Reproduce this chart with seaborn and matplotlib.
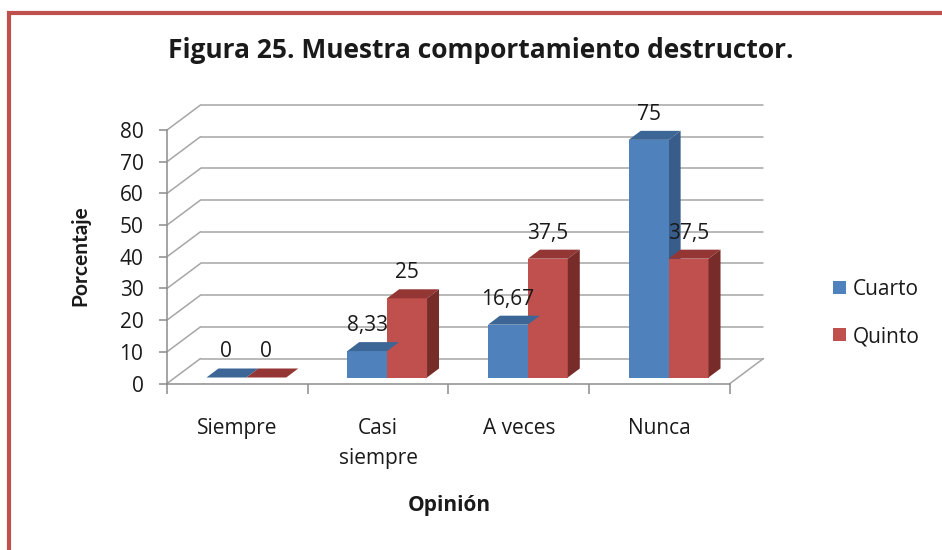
import matplotlib
matplotlib.use("Agg")
import matplotlib.pyplot as plt
import matplotlib.transforms as mtransforms
from matplotlib.patches import Polygon, Rectangle
import seaborn as sns
import pandas as pd

# ---- data ----
categories = ["Siempre", "Casi\nsiempre", "A veces", "Nunca"]
series = ["Cuarto", "Quinto"]
cuarto = [0, 8.33, 16.67, 75]
quinto = [0, 25, 37.5, 37.5]
yticks = [0, 10, 20, 30, 40, 50, 60, 70, 80]
title = "Figura 25. Muestra comportamiento destructor."
xlabel = "Opinión"
ylabel = "Porcentaje"

df = pd.DataFrame({
    "Opinion": categories * 2,
    "Grupo": [series[0]] * 4 + [series[1]] * 4,
    "Valor": cuarto + quinto,
})

sns.set_theme(style="white")
plt.rcParams["font.family"] = ["Open Sans", "DejaVu Sans"]

BLUE, RED = "#4F81BD", "#C0504D"
BLUE_SIDE, RED_SIDE = "#385D8A", "#772C2A"
BLUE_TOP, RED_TOP = "#3C6696", "#943634"
GRID = "#A6A6A6"
AXC = "#8C8C8C"
TXT = "#1a1a1a"
FS = 15

W, H = 942, 550
fig = plt.figure(figsize=(W / 100, H / 100), dpi=100)
x0, x1 = 167, 730
yb, yt = 383.5, 130
ax = fig.add_axes([x0 / W, (H - yb) / H, (x1 - x0) / W, (yb - yt) / H])

sns.barplot(data=df, x="Opinion", y="Valor", hue="Grupo", palette=[BLUE, RED],
            width=0.567, saturation=1, ax=ax, zorder=5, linewidth=0)
ax.set_xlim(-0.5, 3.5)
ax.set_ylim(0, 80)

px_x = (x1 - x0) / 4.0
px_y = (yb - yt) / 80.0

# back wall and floor (3D look)
fdx, fdy = 33.5 / px_x, 25 / px_y
for v in yticks:
    ax.plot([-0.5 + fdx, 3.5 + fdx], [v + fdy, v + fdy], color=GRID, lw=1.1, clip_on=False, zorder=1)
    ax.plot([-0.5, -0.5 + fdx], [v, v + fdy], color=GRID, lw=1.1, clip_on=False, zorder=1)
ax.plot([3.5, 3.5 + fdx], [0, fdy], color=GRID, lw=1.1, clip_on=False, zorder=1)

# bars: shift into the floor and add depth faces
shift = mtransforms.ScaledTranslation(9 / 100, 6 / 100, fig.dpi_scale_trans)
tr = ax.transData + shift
ddx, ddy = 12 / px_x, 9 / px_y
bars = [p for p in ax.patches if abs(p.get_width() - 0.567 / 2) < 0.01]
for i, p in enumerate(bars):
    is_blue = i < 4
    p.set_transform(tr)
    bx, bw, bh = p.get_x(), p.get_width(), p.get_height()
    top = Polygon([(bx, bh), (bx + bw, bh), (bx + bw + ddx, bh + ddy), (bx + ddx, bh + ddy)],
                  closed=True, facecolor=BLUE_TOP if is_blue else RED_TOP, lw=0,
                  transform=tr, zorder=5, clip_on=False)
    side = Polygon([(bx + bw, 0), (bx + bw + ddx, ddy), (bx + bw + ddx, bh + ddy), (bx + bw, bh)],
                   closed=True, facecolor=BLUE_SIDE if is_blue else RED_SIDE, lw=0,
                   transform=tr, zorder=4.9 if is_blue else 5.1, clip_on=False)
    ax.add_patch(side)
    ax.add_patch(top)
    lab = f"{bh:g}".replace(".", ",")
    ax.annotate(lab, xy=(bx + bw / 2, bh), xycoords=tr, xytext=(0, 18.4),
                textcoords="offset points", ha="center", va="center",
                fontsize=FS, color=TXT, zorder=10, annotation_clip=False)

# axes styling
for s in ["top", "right"]:
    ax.spines[s].set_visible(False)
for s in ["left", "bottom"]:
    ax.spines[s].set_color(AXC)
    ax.spines[s].set_linewidth(1.1)
ax.set_yticks(yticks)
ax.set_yticklabels([str(v) for v in yticks])
ax.tick_params(axis="y", length=6, width=1.1, color=AXC, pad=11, labelsize=FS, labelcolor=TXT, left=True)
ax.set_xticks(range(4))
ax.set_xticklabels(categories)
ax.tick_params(axis="x", length=0, pad=24.5, labelsize=FS, labelcolor=TXT)
for t in ax.get_xticklabels():
    t.set_verticalalignment("top")
    t.set_linespacing(1.6)
ax.set_xticks([-0.5, 0.5, 1.5, 2.5, 3.5], minor=True)
ax.tick_params(axis="x", which="minor", length=7, width=1.1, color=AXC, bottom=True)

ax.set_xlabel(xlabel, fontsize=FS, fontweight="bold", color=TXT)
ax.set_ylabel(ylabel, fontsize=FS, fontweight="bold", color=TXT, family=["Lato", "DejaVu Sans"])
ax.xaxis.set_label_coords((449 - x0) / (x1 - x0), -(505 - yb) / (yb - yt))
ax.xaxis.label.set_va("center")
ax.yaxis.set_label_coords((80 - x0) / (x1 - x0), (yb - 256) / (yb - yt))
ax.yaxis.label.set_va("center")

sns.move_legend(ax, loc="center left", bbox_to_anchor=((814 - x0) / (x1 - x0), (yb - 313) / (yb - yt)),
                frameon=False, title=None, fontsize=FS, handlelength=0.62, handleheight=0.62,
                handletextpad=0.35, labelspacing=1.25)
for t in ax.get_legend().get_texts():
    t.set_color(TXT)

fig.text(481 / W, 1 - 51 / H, title, ha="center", va="center", fontsize=19, fontweight="bold", color=TXT)

# red frame
fig.patches.append(Rectangle((9 / W, -0.1), 1.2, 1.1 - 13 / H, transform=fig.transFigure,
                             fill=False, edgecolor="#C0504D", lw=3, zorder=0))

fig.savefig("out.png", dpi=100)
